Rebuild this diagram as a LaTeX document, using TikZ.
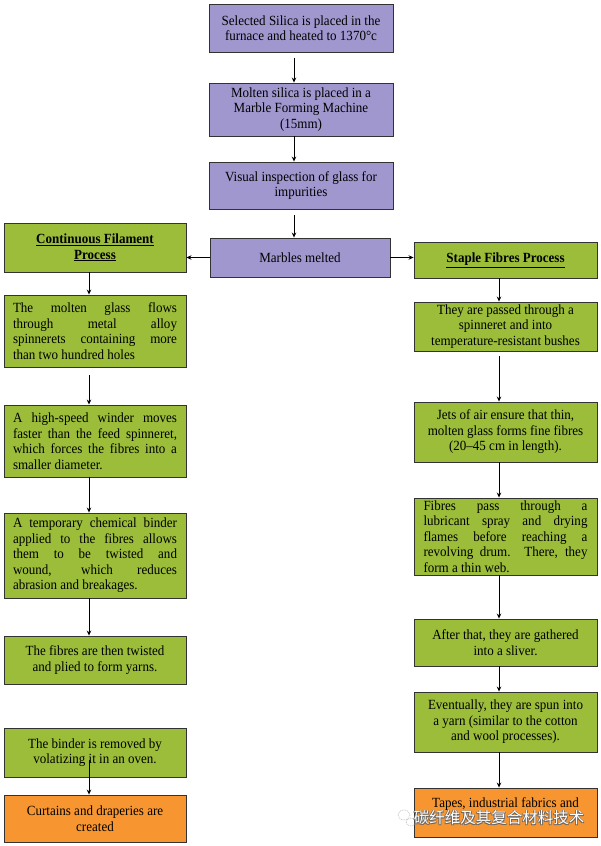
\documentclass[tikz,border=0pt]{standalone}
\usepackage{fontspec}
\setmainfont{Liberation Serif}[FakeStretch=0.93]
\newfontfamily\cjk{Noto Sans CJK SC}
\usetikzlibrary{arrows.meta}
\definecolor{boxpurple}{RGB}{160,151,206}
\definecolor{boxgreen}{RGB}{155,189,58}
\definecolor{boxorange}{RGB}{247,150,48}
\definecolor{boxline}{RGB}{50,50,50}
\begin{document}
\begin{tikzpicture}[x=1pt,y=-1pt,
  base/.style={draw=boxline, line width=0.9pt, inner xsep=9pt, inner ysep=2pt,
    font=\fontsize{14}{15.5}\selectfont, align=center},
  pbox/.style={base, fill=boxpurple},
  gbox/.style={base, fill=boxgreen},
  obox/.style={base, fill=boxorange},
  jtext/.style={align=justify, text width=164pt},
  arr/.style={-{Stealth[length=5pt,width=4.5pt]}, line width=1pt, black}]
\useasboundingbox (0,0) rectangle (600,846);
\fill[white] (0,0) rectangle (600,846);

% top column
\node[pbox, minimum width=184, minimum height=48] (t1) at (301,28)
  {Selected Silica is placed in the\\furnace and heated to 1370°c};
\node[pbox, minimum width=184, minimum height=53] (t2) at (301,109.5)
  {Molten silica is placed in a\\Marble Forming Machine\\(15mm)};
\node[pbox, minimum width=184, minimum height=47] (t3) at (301,185.5)
  {Visual inspection of glass for\\impurities};
\node[pbox, minimum width=180, minimum height=39] (m) at (300,257.5)
  {Marbles melted};

% left column
\node[gbox, minimum width=182, minimum height=49] (cf) at (95,247.5)
  {\textbf{\underline{Continuous Filament}}\\\textbf{\underline{Process}}};
\node[gbox, jtext, minimum width=182, minimum height=72] (l1) at (95,331)
  {The molten glass flows\linebreak through metal alloy\linebreak spinnerets containing more\linebreak than two hundred holes};
\node[gbox, jtext, minimum width=182, minimum height=72] (l2) at (95,441)
  {A high-speed winder moves\linebreak faster than the feed spinneret,\linebreak which forces the fibres into a\linebreak smaller diameter.};
\node[gbox, jtext, minimum width=182, minimum height=85] (l3) at (95,555.5)
  {A temporary chemical binder\linebreak applied to the fibres allows\linebreak them to be twisted and\linebreak wound, which reduces\linebreak abrasion and breakages.};
\node[gbox, minimum width=182, minimum height=48] (l4) at (95,660)
  {The fibres are then twisted\\and plied to form yarns.};
\node[gbox, minimum width=182, minimum height=49] (l5) at (95,752.5)
  {The binder is removed by\\volatizing it in an oven.};
\node[obox, minimum width=182, minimum height=47] (l6) at (95,818.5)
  {Curtains and draperies are\\created};

% right column
\node[gbox, minimum width=183, minimum height=36] (sf) at (505.5,260)
  {\textbf{\underline{Staple Fibres Process}}};
\node[gbox, minimum width=183, minimum height=49] (r1) at (505.5,326.5)
  {They are passed through a\\spinneret and into\\temperature-resistant bushes};
\node[gbox, minimum width=183, minimum height=60] (r2) at (505.5,432)
  {Jets of air ensure that thin,\\molten glass forms fine fibres\\(20–45 cm in length).};
\node[gbox, jtext, minimum width=183, minimum height=77] (r3) at (505.5,536.5)
  {Fibres pass through a\linebreak lubricant spray and drying\linebreak flames before reaching a\linebreak revolving drum. There, they\linebreak form a thin web.};
\node[gbox, minimum width=183, minimum height=47] (r4) at (505.5,642.5)
  {After that, they are gathered\\into a sliver.};
\node[gbox, minimum width=183, minimum height=60] (r5) at (505.5,722)
  {Eventually, they are spun into\\a yarn (similar to the cotton\\and wool processes).};
\node[obox, minimum width=183, minimum height=49] (r6) at (505.5,812.5)
  {Tapes, industrial fabrics and\\\strut};

% arrow columns
\coordinate (cx) at (294,0);
\coordinate (lx) at (89,0);
\coordinate (rx) at (499,0);

\draw[arr, shorten <=6pt] (t1.south -| cx) -- (t2.north -| cx);
\draw[arr] (t2.south -| cx) -- (t3.north -| cx);
\draw[arr, shorten <=6pt] (t3.south -| cx) -- (m.north -| cx);
\draw[arr] (m.west) -- (cf.east |- m.west);
\draw[arr] (m.east) -- (sf.west |- m.east);

\draw[arr] (cf.south -| lx) -- (l1.north -| lx);
\draw[arr, shorten <=8pt] (l1.south -| lx) -- (l2.north -| lx);
\draw[arr] (l2.south -| lx) -- (l3.north -| lx);
\draw[arr] (l3.south -| lx) -- (l4.north -| lx);
\draw[arr, shorten <=-17pt] (l5.south -| lx) -- (l6.north -| lx);

\draw[arr] (sf.south -| rx) -- (r1.north -| rx);
\draw[arr, shorten <=5pt] (r1.south -| rx) -- (r2.north -| rx);
\draw[arr] (r2.south -| rx) -- (r3.north -| rx);
\draw[arr] (r3.south -| rx) -- (r4.north -| rx);
\draw[arr] (r4.south -| rx) -- (r5.north -| rx);
\draw[arr] (r5.south -| rx) -- (r6.north -| rx);

% watermark
\draw[gray!45, densely dotted, line width=0.8pt] (404,815) ellipse (6 and 5);
\draw[gray!45, densely dotted, line width=0.8pt] (411,822) ellipse (5 and 4);
\foreach \dx/\dy [count=\i] in {0.9/0.9,-0.7/0.7,0.7/-0.7,-0.7/-0.7}
  \node[font=\cjk\fontsize{15.5}{16}\selectfont, text=black!60] (wms\i) at (499+\dx,818+\dy) {碳纤维及其复合材料技术};
\node[font=\cjk\fontsize{15.5}{16}\selectfont, text=white] (wm) at (499,818) {碳纤维及其复合材料技术};
\end{tikzpicture}
\end{document}
